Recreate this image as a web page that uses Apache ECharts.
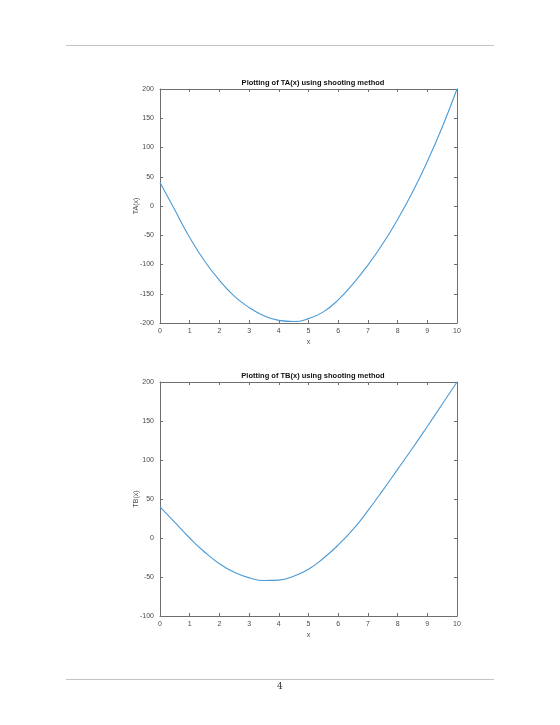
<!DOCTYPE html>
<html lang="en">
<head>
  <meta charset="UTF-8">
  <title>Shooting method</title>
  <style>
    html, body { margin: 0; padding: 0; background: #fff; }
    #chart { width: 560px; height: 725px; }
  </style>
</head>
<body>
  <div id="chart"></div>
  <script src="https://cdn.jsdelivr.net/npm/echarts@6/dist/echarts.min.js"></script>
  <script>
// x positions of the samples
const xs = [0, 0.5, 1, 1.5, 2, 2.5, 3, 3.5, 4, 4.5, 5, 5.5, 6, 6.5, 7, 7.5, 8, 8.5, 9, 9.5, 10];
// TA(x)
const taValues = [40, -7, -54, -94, -127, -154, -173.5, -187.5, -195.5, -197.5, -192.5, -181, -160.5, -133, -101, -64.5, -23, 23.5, 76, 134.5, 200];
// TB(x)
const tbValues = [40, 20, 0, -18, -33, -44, -51, -54.5, -54, -49, -40, -26, -9, 11, 35, 61, 88, 115, 143, 171.5, 200];

const titles = ['Plotting of TA(x) using shooting method', 'Plotting of TB(x) using shooting method'];
const yNames = ['TA(x)', 'TB(x)'];
const yRanges = [[-200, 200], [-100, 200]];

const lineColor = '#6e6e6e';
const labelColor = '#4a4a4a';
const font = 'Liberation Sans';

const gridTops = [89, 382];

function pairs(ys) {
  return xs.map((x, i) => [x, ys[i]]);
}

let grids = [], xAxes = [], yAxes = [], series = [], titleList = [];

gridTops.forEach((top, g) => {
  grids.push({ left: 160, width: 297, top: top, height: 234 });
  titleList.push({
    text: titles[g],
    left: 308, top: top - 15, textAlign: 'center',
    textStyle: { fontFamily: font, fontSize: 7.5, fontWeight: 'bold', color: '#111' }
  });
  // bottom + top x axes (MATLAB box)
  ['bottom', 'top'].forEach((pos) => {
    xAxes.push({
      type: 'value', gridIndex: g, position: pos,
      min: 0, max: 10, interval: 1,
      name: pos === 'bottom' ? 'x' : '', nameLocation: 'middle', nameGap: 16,
      nameMoveOverlap: false,
      nameTextStyle: { fontFamily: font, fontSize: 7, color: labelColor },
      axisLine: { show: true, onZero: false, lineStyle: { color: lineColor, width: 1 } },
      axisTick: { show: true, inside: true, length: 3, lineStyle: { color: lineColor } },
      axisLabel: { show: pos === 'bottom', margin: 5, fontFamily: font, fontSize: 7, color: labelColor },
      splitLine: { show: false }
    });
  });
  // left + right y axes
  ['left', 'right'].forEach((pos) => {
    yAxes.push({
      type: 'value', gridIndex: g, position: pos,
      min: yRanges[g][0], max: yRanges[g][1], interval: 50,
      name: pos === 'left' ? yNames[g] : '', nameLocation: 'middle', nameGap: 20,
      nameMoveOverlap: false,
      nameTextStyle: { fontFamily: font, fontSize: 7, color: labelColor },
      axisLine: { show: true, onZero: false, lineStyle: { color: lineColor, width: 1 } },
      axisTick: { show: true, inside: true, length: 3, lineStyle: { color: lineColor } },
      axisLabel: { show: pos === 'left', margin: 6, fontFamily: font, fontSize: 7, color: labelColor },
      splitLine: { show: false }
    });
  });
  series.push({
    type: 'line',
    xAxisIndex: g * 2, yAxisIndex: g * 2,
    data: pairs(g === 0 ? taValues : tbValues),
    smooth: 0.5, showSymbol: false,
    lineStyle: { color: '#4a9ad6', width: 1.1 },
    animation: false
  });
});

const chart = echarts.init(document.getElementById('chart'));
chart.setOption({
  backgroundColor: '#fff',
  animation: false,
  title: titleList,
  grid: grids,
  xAxis: xAxes,
  yAxis: yAxes,
  series: series,
  graphic: [
    // page header / footer rules and page number
    { type: 'line', shape: { x1: 66, y1: 45.5, x2: 494, y2: 45.5 }, style: { stroke: '#c4c4c4', lineWidth: 1 } },
    { type: 'line', shape: { x1: 66, y1: 679.5, x2: 494, y2: 679.5 }, style: { stroke: '#c4c4c4', lineWidth: 1 } },
    { type: 'text', left: 277, top: 682, style: { text: '4', font: '9px "DejaVu Serif"', fill: '#333' } }
  ]
});
  </script>
</body>
</html>
